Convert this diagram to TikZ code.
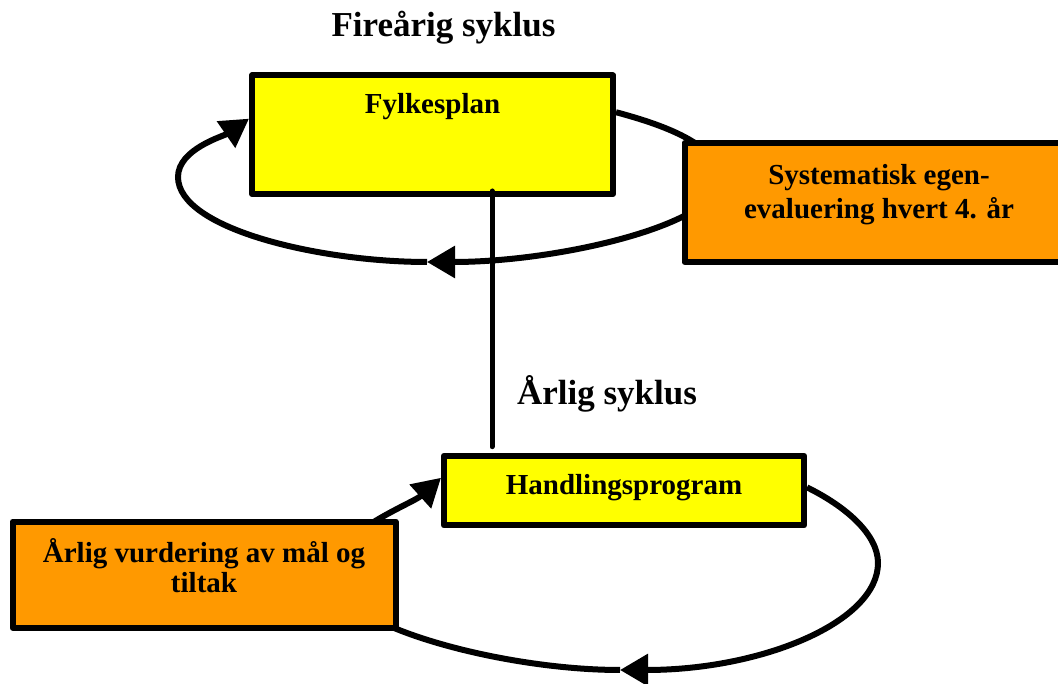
\documentclass[tikz,border=0pt]{standalone}
\usepackage{fontspec}
\setmainfont{Liberation Serif}
\usepackage{tikz}
\usetikzlibrary{arrows.meta,backgrounds}
\usepackage{xcolor}
\definecolor{gul}{RGB}{255,255,0}
\definecolor{oransje}{RGB}{255,153,0}

\begin{document}
\begin{tikzpicture}[x=1pt, y=1pt, line join=round,
                    >={Triangle[length=28pt,width=31pt]}]
\tikzstyle{boks}=[draw, line width=6pt, inner sep=0pt, align=center,
                  anchor=base, font=\fontsize{29}{32}\selectfont\bfseries]
\tikzstyle{gulboks}=[boks, fill=gul]
\tikzstyle{oransjeboks}=[boks, fill=oransje]
\tikzstyle{tittel}=[font=\fontsize{35}{38}\selectfont\bfseries, anchor=base]
\tikzstyle{sloyfe}=[line width=6pt, ->]

\path[use as bounding box, clip] (0,0) rectangle (1058,684);

\node[tittel] (fireaar) at (443.5,647.3) {Fireårig syklus};
\node[gulboks, minimum width=361pt,
      text height=37.8pt, text depth=80.7pt] (fylke) at (432.5,570.7) {Fylkesplan};
% grunnlinjen er siste linje i teksten
\node[oransjeboks, minimum width=389pt, text height=75.3pt, text depth=43.7pt,
      font=\fontsize{29}{34}\selectfont\bfseries]
      (egeneval) at (879,465.7) {Systematisk egen-\\evaluering hvert 4. år};

\node[tittel] (aarlig) at (607,279) {Årlig syklus};
\node[gulboks, minimum width=360pt,
      text height=39.3pt, text depth=30.5pt] (handling) at (624,189) {Handlingsprogram};
\node[oransjeboks, minimum width=383pt, text height=71pt, text depth=35.1pt,
      font=\fontsize{29}{30}\selectfont\bfseries]
      (vurdering) at (204,91.3) {Årlig vurdering av mål og\\tiltak};

% sløyfene ligger bak boksene
\coordinate (fire-h) at (720,505);
\coordinate (fire-b) at (427,422);
\coordinate (fire-v) at (178,507);
\coordinate (aar-h) at (878,121);
\coordinate (aar-b) at (620,14);
\coordinate (aar-v) at (330,110);
\begin{scope}[on background layer]
\draw[sloyfe] (fylke.7) .. controls (660,560) and (720,540) .. (fire-h)
    .. controls (720,460) and (560,422) .. (fire-b);
\draw[sloyfe] (fire-b) .. controls (320,422) and (178,455) .. (fire-v)
    .. controls (178,535) and (224,548) .. (fylke.175);
\draw[sloyfe] (handling.1) .. controls (845,178) and (878,150) .. (aar-h)
    .. controls (878,62) and (762,14) .. (aar-b);
\draw[sloyfe] (aar-b) .. controls (500,14) and (330,60) .. (aar-v)
    .. controls (330,150) and (412,180) .. (handling.176);
\end{scope}

\draw[line width=5pt, line cap=round]
    ([xshift=59.5pt,yshift=6pt]fylke.south) -- ([xshift=59.5pt,yshift=6pt]fylke.south |- handling.north);
\end{tikzpicture}
\end{document}
